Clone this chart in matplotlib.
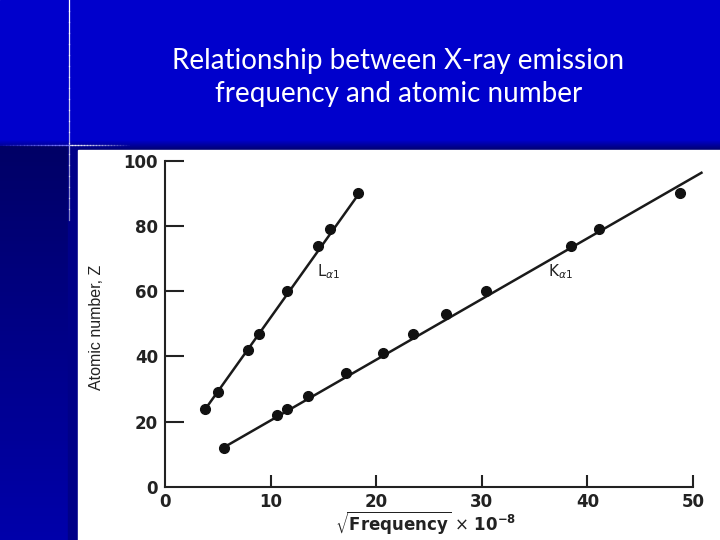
import matplotlib
matplotlib.use("Agg")
import matplotlib.pyplot as plt
import numpy as np

# Data (x = sqrt(frequency) x 1e-8, y = atomic number Z)
l_x = [3.8, 5.0, 7.9, 8.9, 11.6, 14.5, 15.6, 18.3]
l_z = [24, 29, 42, 47, 60, 74, 79, 90]
k_x = [5.6, 10.6, 11.6, 13.5, 17.1, 20.6, 23.5, 26.6, 30.4, 38.4, 41.1, 48.8]
k_z = [12, 22, 24, 28, 35, 41, 47, 53, 60, 74, 79, 90]

# hand-drawn straight lines through each series
l_line_x = [3.8, 18.3]
l_line_z = [23.8, 89.6]
k_line_x = [5.6, 50.8]
k_line_z = [12.2, 96.3]

x_ticks = [0, 10, 20, 30, 40, 50]
y_ticks = [0, 20, 40, 60, 80, 100]

title = "Relationship between X-ray emission\nfrequency and atomic number"

fig = plt.figure(figsize=(7.2, 5.4), dpi=100)

# slide background drawn in pixel space
bg = fig.add_axes([0, 0, 1, 1])
bg.set_xlim(0, 720)
bg.set_ylim(540, 0)
bg.axis('off')
bg.add_patch(plt.Rectangle((0, 0), 720, 540, color='#0000CC', zorder=0))
# dark shadow band above the picture
band = np.linspace(0, 1, 50).reshape(-1, 1)
bg.imshow(band, extent=[0, 720, 150, 140], cmap=matplotlib.colors.LinearSegmentedColormap.from_list(
    'b1', ['#0000CC', '#000070']), aspect='auto', zorder=1)
# left strip gradient
strip = np.linspace(0, 1, 100).reshape(-1, 1)
bg.imshow(strip, extent=[0, 78, 540, 146], cmap=matplotlib.colors.LinearSegmentedColormap.from_list(
    'b2', ['#000066', '#0000AA']), aspect='auto', zorder=1)
bg.add_patch(plt.Rectangle((68, 146), 10, 394, color='#000088', zorder=2))
# white picture area
bg.add_patch(plt.Rectangle((78, 150), 642, 390, color='white', zorder=3))
# thin highlight lines
for i in range(20):
    a = 1 - i / 20
    bg.plot([69, 69], [i * 11, (i + 1) * 11], color='white', lw=0.9, alpha=min(1, 0.5 + a * 0.5), zorder=4)
for i in range(20):
    a = 1 - i / 20
    bg.plot([69 + i * 3, 69 + (i + 1) * 3], [145, 145], color='white', lw=0.9, alpha=a * 0.8, zorder=4)
    bg.plot([69 - i * 3.5, 69 - (i + 1) * 3.5], [145, 145], color='#8080ff', lw=0.9, alpha=a * 0.8, zorder=4)

fig.text(0.553, 0.857, title, color='white', fontsize=20, family='Lato',
         ha='center', va='center', linespacing=1.32)

ax = fig.add_axes([165 / 720, 1 - 487 / 540, 528 / 720, 326.3 / 540])
ax.patch.set_alpha(0)
ax.set_xlim(0, 50)
ax.set_ylim(0, 100)
for s in ['top', 'right']:
    ax.spines[s].set_visible(False)
for s in ['left', 'bottom']:
    ax.spines[s].set_linewidth(1.5)
    ax.spines[s].set_color('#222222')

ax.plot(l_line_x, l_line_z, color='#1a1a1a', lw=1.8, clip_on=False)
ax.plot(k_line_x, k_line_z, color='#1a1a1a', lw=1.8, clip_on=False)
ax.plot(l_x, l_z, 'o', color='#111111', ms=7, clip_on=False)
ax.plot(k_x, k_z, 'o', color='#111111', ms=7, clip_on=False)

ax.text(14.4, 66, r'L$_{\alpha 1}$', fontsize=11, color='#222222', va='center')
ax.text(36.3, 66, r'K$_{\alpha 1}$', fontsize=11, color='#222222', va='center')

ax.set_xticks(x_ticks)
ax.set_yticks(y_ticks)
ax.tick_params(axis='y', direction='in', length=14, width=1.5, pad=5, colors='#222222')
ax.tick_params(axis='x', direction='in', length=9, width=1.5, pad=4, colors='#222222')
for lab in ax.get_xticklabels() + ax.get_yticklabels():
    lab.set_fontweight('bold')
    lab.set_fontsize(12)
ax.xaxis.get_major_ticks()[0].tick1line.set_visible(False)
ax.yaxis.get_major_ticks()[0].tick1line.set_visible(False)

ax.text(-0.129, 0.49, 'Atomic number, Z', transform=ax.transAxes, rotation=90,
        fontsize=11.5, family='Liberation Sans', ha='center', va='center', color='#222222')
ax.text(0.494, -0.113, r'$\sqrt{\mathbf{Frequency}}$ $\times$ $\mathbf{10^{-8}}$',
        transform=ax.transAxes, fontsize=12, ha='center', va='center', color='#222222')

plt.savefig('out.png', dpi=100)
